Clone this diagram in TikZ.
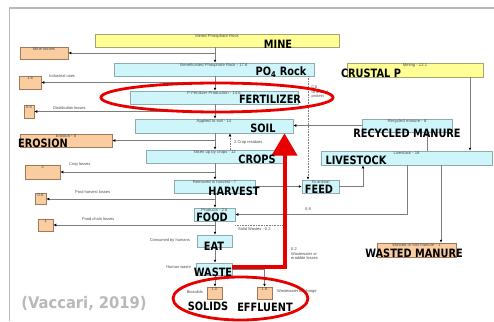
\documentclass[tikz,border=0pt]{standalone}
\usepackage{fontspec}
\usepackage{graphicx}
\usetikzlibrary{arrows.meta}
\newfontfamily\lblfont{DejaVu Sans}
\newfontfamily\smallfont{Liberation Sans}
\definecolor{boxcyan}{RGB}{206,246,250}
\definecolor{boxcyanline}{RGB}{140,172,178}
\definecolor{boxyellow}{RGB}{255,255,150}
\definecolor{boxyellowline}{RGB}{165,165,110}
\definecolor{boxorange}{RGB}{250,205,160}
\definecolor{boxorangeline}{RGB}{160,120,90}
\definecolor{flowgray}{RGB}{125,125,125}
\definecolor{markred}{RGB}{232,0,0}
\definecolor{citegray}{RGB}{185,185,185}
\definecolor{framegray}{RGB}{185,185,185}
\newcommand\sqz[2][0.85]{\scalebox{#1}[1]{#2}}

\begin{document}
\begin{tikzpicture}[x=1pt,y=-1pt,
  box/.style={line width=0.5pt, inner sep=0pt, anchor=center},
  cyanbox/.style={box, fill=boxcyan, draw=boxcyanline},
  yellowbox/.style={box, fill=boxyellow, draw=boxyellowline},
  orangebox/.style={box, fill=boxorange, draw=boxorangeline},
  tinytxt/.style={font=\smallfont\fontsize{4.2}{4.6}\selectfont, text=black!70, inner sep=0.6pt},
  sidetxt/.style={font=\smallfont\fontsize{4}{4.6}\selectfont, text=black!70, inner sep=0pt, align=left},
  biglbl/.style={font=\lblfont\bfseries\fontsize{11.5}{12}\selectfont, text=black, inner sep=0pt},
  flow/.style={draw=flowgray, line width=0.6pt, -{Latex[length=3pt,width=2.8pt,color=black]}},
  plainflow/.style={draw=flowgray, line width=0.6pt},
  redmark/.style={draw=markred, line width=2.8pt},
]
\useasboundingbox (0,0) rectangle (494,321);
\fill[white] (0,0) rectangle (494,321);
% page frame
\draw[framegray, line width=1.2pt] (494,8) -- (9.5,8) -- (9.5,321);

% helper coordinates for the vertical runs
\coordinate (trunk) at (215,0);
\coordinate (resx) at (230,0);
\coordinate (feedx) at (308,0);
\coordinate (recx) at (427,0);
\coordinate (minx) at (470,0);
\coordinate (lvfx) at (363,0);
\coordinate (foodx) at (407,0);
\coordinate (wastx) at (441,0);

% ---- main chain ----
\node[yellowbox, minimum width=244pt, minimum height=13pt] (mine) at (217,40.5) {};
\node[tinytxt, anchor=north] (mineT) at (mine.north) {Mined Phosphate Rock};
\node[cyanbox, minimum width=200pt, minimum height=13pt] (benef) at (214,69.5) {};
\node[tinytxt, anchor=north] (benefT) at (benef.north) {Beneficiated Phosphate Rock - 17.6};
\node[cyanbox, minimum width=168pt, minimum height=13pt] (fert) at (214,97.5) {};
\node[tinytxt, anchor=north] (fertT) at (fert.north) {P Fertilizer Production - 14.6};
\node[cyanbox, minimum width=158pt, minimum height=14pt] (soil) at (214,126) {};
\node[tinytxt, anchor=north] (soilT) at (soil.north) {Applied to soil - 14};
\node[cyanbox, minimum width=137pt, minimum height=13pt] (crops) at (214.5,156.5) {};
\node[tinytxt, anchor=north] (cropsT) at (crops.north) {Taken up by crops - 12};
\node[cyanbox, minimum width=81pt, minimum height=13pt] (harv) at (214.5,186.5) {};
\node[tinytxt, anchor=north] (harvT) at (harv.north) {Removed in harvest - 7};
\node[cyanbox, minimum width=41pt, minimum height=13pt] (food) at (214.5,214.5) {};
\node[tinytxt, anchor=north] (foodT) at (food.north) {Products - 2.6};
\node[cyanbox, minimum width=35pt, minimum height=12pt] (eat) at (214.5,241) {};
\node[cyanbox, minimum width=36pt, minimum height=12pt] (waste) at (214,269) {};
\node[orangebox, minimum width=15pt, minimum height=12pt] (bios) at (214.5,293) {};
\node[tinytxt, anchor=north] (biosT) at (bios.north) {1.0};
\node[orangebox, minimum width=15pt, minimum height=12pt] (wwater) at (264.5,293) {};
\node[tinytxt, anchor=north] (wwaterT) at (wwater.north) {1.6};

% ---- loss boxes on the left ----
\node[orangebox, minimum width=48pt, minimum height=12pt] (mineloss) at (44,53) {};
\node[tinytxt, anchor=north] (minelossT) at (mineloss.north) {Mine losses};
\node[orangebox, minimum width=22pt, minimum height=13pt] (indus) at (30,82.5) {};
\node[tinytxt, anchor=north] (indusT) at (indus.north) {1.6};
\node[orangebox, minimum width=10pt, minimum height=13pt] (distr) at (29,111.5) {};
\node[tinytxt, anchor=north] (distrT) at (distr.north) {0.4};
\node[orangebox, minimum width=92pt, minimum height=13pt] (eros) at (66,140.5) {};
\node[tinytxt, anchor=north] (erosT) at (eros.north) {Erosion - 8};
\node[orangebox, minimum width=35pt, minimum height=14pt] (croploss) at (42.5,172) {};
\node[tinytxt, anchor=north] (crossT) at (croploss.north) {3};
\node[orangebox, minimum width=11pt, minimum height=11pt] (postharv) at (40.5,199) {};
\node[tinytxt, anchor=north] (postharvT) at (postharv.north) {0.6};
\node[orangebox, minimum width=15pt, minimum height=12pt] (foodchain) at (45.5,225) {};
\node[tinytxt, anchor=north] (foodchainT) at (foodchain.north) {1};

% ---- livestock side ----
\node[yellowbox, minimum width=136pt, minimum height=14pt] (mining) at (415,70) {};
\node[tinytxt, anchor=north] (miningT) at (mining.north) {Mining - 12.1};
\node[cyanbox, minimum width=90pt, minimum height=13pt] (recyc) at (407,125.5) {};
\node[tinytxt, anchor=north] (recycT) at (recyc.north) {Recycled manure - 8};
\node[cyanbox, minimum width=171pt, minimum height=14pt] (livest) at (406.5,158) {};
\node[tinytxt, anchor=north] (livestT) at (livest.north) {Livestock - 18};
\node[cyanbox, minimum width=37pt, minimum height=13pt] (feed) at (320.5,186.5) {};
\node[tinytxt, anchor=north] (feedT) at (feed.north) {To animal};
\node[orangebox, minimum width=79pt, minimum height=14pt] (wasted) at (416.5,250) {};
\node[tinytxt, anchor=north] (wastedT) at (wasted.north) {Wasted or lost manure - 1};

% ---- flows down the chain ----
\draw[flow] (mine.south -| trunk) -- (benef.north -| trunk);
\draw[flow] (benef.south -| trunk) -- (fert.north -| trunk);
\draw[flow] (fert.south -| trunk) -- (soil.north -| trunk);
\draw[flow] (soil.south -| trunk) -- (crops.north -| trunk);
\draw[flow] (crops.south -| trunk) -- (harv.north -| trunk);
\draw[flow] (harv.south -| trunk) -- (food.north -| trunk);
\draw[flow] (food.south -| trunk) -- (eat.north -| trunk);
\draw[flow] (eat.south -| trunk) -- (waste.north -| trunk);
\draw[flow] (waste.south -| trunk) -- (bios.north -| trunk);
\draw[flow] (waste.east) -| (wwater.north);

% ---- losses to the left ----
\draw[flow] (mineloss.east -| trunk) -- (mineloss.east);
\draw[flow] (indus.east -| trunk) -- (indus.east);
\draw[flow] (distr.east -| trunk) -- (distr.east);
\draw[flow] (eros.east -| trunk) -- (eros.east);
\draw[flow] (croploss.east -| trunk) -- (croploss.east);
\draw[flow] (postharv.east -| trunk) -- (postharv.east);
\draw[flow] (foodchain.east -| trunk) -- (foodchain.east);

% ---- side flows ----
\draw[flow, dash pattern=on 1.5pt off 1pt] (crops.north -| resx) -- (soil.south -| resx);
\draw[flow, dash pattern=on 0.8pt off 0.8pt] (benef.south -| feedx) -- (feed.north -| feedx);
\draw[flow] (harv.east) -- (feed.west);
\draw[flow] (feed.east) -| (livest.south -| lvfx);
\draw[flow] (recyc.west) -- (recyc.west -| soil.east);
\draw[flow] (livest.north -| recx) -- (recyc.south -| recx);
\draw[flow] (mining.south -| minx) -- (livest.north -| minx);
\draw[flow] (livest.south -| foodx) |- (food.east);
\draw[flow] (livest.south -| wastx) -- (wasted.north -| wastx);
\coordinate (solidend) at (286,225);
\draw[plainflow, dash pattern=on 0.8pt off 0.8pt] (food.east |- solidend) -- (solidend);

% ---- small flow captions ----
\node[sidetxt, anchor=west] (indusL) at (49,76.5) {Industrial uses};
\node[sidetxt, anchor=west] (distrL) at (53,108) {Distribution losses};
\node[sidetxt, anchor=west] (cropsL) at (69,164.5) {Crop losses};
\node[sidetxt, anchor=west] (postL) at (75,192) {Post-harvest losses};
\node[sidetxt, anchor=west] (chainL) at (82,219) {Food chain losses};
\node[sidetxt, anchor=east] (eatL) at (190,240.5) {Consumed by humans};
\node[sidetxt, anchor=east] (wasteL) at (191,267) {Human waste};
\node[sidetxt, anchor=east] (biosL) at (203,292) {Biosolids};
\node[sidetxt, anchor=west] (wwaterL) at (277,291) {Wastewater discharge};
\node[sidetxt, anchor=west] (resL) at (234,142) {2 Crop residues};
\node[sidetxt, anchor=west] (solidL) at (238,229.5) {Solid Wastes - 0.2};
\node[sidetxt, anchor=west] (meatL) at (305,209) {0.8};
\node[sidetxt, anchor=north west] (feedL) at (311.5,85.5) {0.6\\to animal\\protein};
\node[sidetxt, anchor=north west] (leakL) at (291,247.5) {0.2\\Wastewater or\\erodible losses};

% ---- highlights ----
\draw[redmark] (217,97.5) ellipse [x radius=116, y radius=14.5];
\draw[redmark] (240.5,298.5) ellipse [x radius=67.5, y radius=21.5];
\coordinate (redstart) at (232,267);
\coordinate (redturn) at (285,267);
\coordinate (redtip) at (284.5,133.5);
\draw[markred, line width=4.6pt, line join=miter] (redstart) -- (redturn) -- (285,154);
\fill[markred] (redtip) -- (297.5,155.5) -- (271.5,155.5) -- cycle;

% ---- stage labels ----
\node[biglbl] (lMine) at (278,44) {\sqz{MINE}};
\node[biglbl] (lRock) at (281,72) {\sqz{PO\textsubscript{4} Rock}};
\node[biglbl] (lCrust) at (371,73) {\sqz{CRUSTAL P}};
\node[biglbl] (lFert) at (270,99.5) {\sqz{FERTILIZER}};
\node[biglbl] (lSoil) at (263,128) {\sqz{SOIL}};
\node[biglbl] (lEros) at (43,143) {\sqz{EROSION}};
\node[biglbl] (lRecyc) at (407,133) {\sqz{RECYCLED MANURE}};
\node[biglbl] (lCrops) at (257,159) {\sqz{CROPS}};
\node[biglbl] (lLive) at (356,160) {\sqz{LIVESTOCK}};
\node[biglbl] (lHarv) at (234,191) {\sqz{HARVEST}};
\node[biglbl] (lFeed) at (319,189.5) {\sqz{FEED}};
\node[biglbl] (lFood) at (212,217.5) {\sqz{FOOD}};
\node[biglbl] (lEat) at (214,246) {\sqz{EAT}};
\node[biglbl] (lWaste) at (213,272.5) {\sqz{WASTE}};
\node[biglbl] (lSolids) at (208,306) {\sqz{SOLIDS}};
\node[biglbl] (lEffl) at (265,307) {\sqz{EFFLUENT}};
\node[biglbl] (lWasted) at (414,253) {\sqz{WASTED MANURE}};
\node[font=\lblfont\bfseries\fontsize{16}{17}\selectfont, text=citegray, inner sep=0pt] (cite) at (84,304) {\sqz[0.92]{(Vaccari, 2019)}};
\end{tikzpicture}
\end{document}
